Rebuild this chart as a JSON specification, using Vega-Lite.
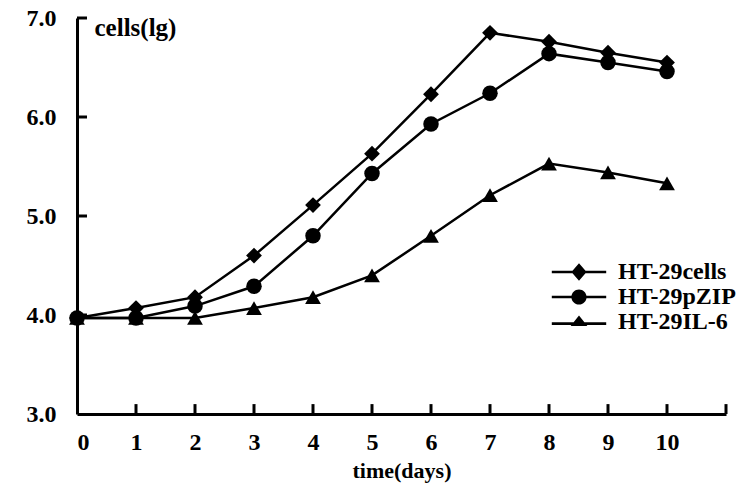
{
  "$schema": "https://vega.github.io/schema/vega-lite/v6.json",
  "width": 649,
  "height": 396,
  "autosize": "none",
  "padding": {"left": 77, "top": 18, "right": 28, "bottom": 80},
  "background": "white",
  "config": {
    "view": {"stroke": null},
    "font": "Liberation Serif",
    "axis": {"grid": false, "ticks": false, "domainColor": "black", "domainWidth": 3, "labelColor": "black", "titleColor": "black", "labelFont": "Liberation Serif", "titleFont": "Liberation Serif", "labelFontWeight": "bold", "titleFontWeight": "bold"}
  },
  "datasets": {
    "growth": [
      {"time": 0, "value": 3.97, "series": "HT-29cells"},
      {"time": 1, "value": 4.07, "series": "HT-29cells"},
      {"time": 2, "value": 4.18, "series": "HT-29cells"},
      {"time": 3, "value": 4.6, "series": "HT-29cells"},
      {"time": 4, "value": 5.11, "series": "HT-29cells"},
      {"time": 5, "value": 5.63, "series": "HT-29cells"},
      {"time": 6, "value": 6.23, "series": "HT-29cells"},
      {"time": 7, "value": 6.85, "series": "HT-29cells"},
      {"time": 8, "value": 6.76, "series": "HT-29cells"},
      {"time": 9, "value": 6.65, "series": "HT-29cells"},
      {"time": 10, "value": 6.55, "series": "HT-29cells"},
      {"time": 0, "value": 3.97, "series": "HT-29pZIP"},
      {"time": 1, "value": 3.97, "series": "HT-29pZIP"},
      {"time": 2, "value": 4.09, "series": "HT-29pZIP"},
      {"time": 3, "value": 4.29, "series": "HT-29pZIP"},
      {"time": 4, "value": 4.8, "series": "HT-29pZIP"},
      {"time": 5, "value": 5.43, "series": "HT-29pZIP"},
      {"time": 6, "value": 5.93, "series": "HT-29pZIP"},
      {"time": 7, "value": 6.24, "series": "HT-29pZIP"},
      {"time": 8, "value": 6.64, "series": "HT-29pZIP"},
      {"time": 9, "value": 6.55, "series": "HT-29pZIP"},
      {"time": 10, "value": 6.46, "series": "HT-29pZIP"},
      {"time": 0, "value": 3.97, "series": "HT-29IL-6"},
      {"time": 1, "value": 3.97, "series": "HT-29IL-6"},
      {"time": 2, "value": 3.97, "series": "HT-29IL-6"},
      {"time": 3, "value": 4.07, "series": "HT-29IL-6"},
      {"time": 4, "value": 4.18, "series": "HT-29IL-6"},
      {"time": 5, "value": 4.4, "series": "HT-29IL-6"},
      {"time": 6, "value": 4.8, "series": "HT-29IL-6"},
      {"time": 7, "value": 5.21, "series": "HT-29IL-6"},
      {"time": 8, "value": 5.53, "series": "HT-29IL-6"},
      {"time": 9, "value": 5.44, "series": "HT-29IL-6"},
      {"time": 10, "value": 5.33, "series": "HT-29IL-6"}
    ],
    "xticks": [{"t": 1}, {"t": 2}, {"t": 3}, {"t": 4}, {"t": 5}, {"t": 6}, {"t": 7}, {"t": 8}, {"t": 9}, {"t": 10}, {"t": 11}],
    "yticks": [{"v": 4}, {"v": 5}, {"v": 6}, {"v": 7}]
  },
  "data": {"name": "growth"},
  "layer": [
    {"mark": {"type": "line", "color": "black", "strokeWidth": 2.5},
     "encoding": {
       "x": {"field": "time", "type": "quantitative",
         "scale": {"domain": [0, 11], "nice": false, "zero": false},
         "axis": {"values": [0,1,2,3,4,5,6,7,8,9,10,11], "format": "d", "labelExpr": "datum.value == 11 ? '' : datum.label", "labelPadding": 16, "labelFontSize": 24, "title": "time(days)", "titleFontSize": 22, "titlePadding": 6}},
       "y": {"field": "value", "type": "quantitative",
         "scale": {"domain": [3, 7], "nice": false, "zero": false},
         "axis": {"values": [3,4,5,6,7], "format": ".1f", "labelPadding": 21, "labelFontSize": 24, "title": "cells(lg)", "titleFontSize": 25, "titleAngle": 0, "titleAlign": "left", "titleBaseline": "middle", "titleX": 17, "titleY": 9}},
       "detail": {"field": "series"}}},
    {"transform": [{"filter": "datum.series == 'HT-29cells'"}],
     "mark": {"type": "point", "shape": "diamond", "filled": true, "color": "black", "opacity": 1, "size": 250},
     "encoding": {"x": {"field": "time", "type": "quantitative"}, "y": {"field": "value", "type": "quantitative"}}},
    {"transform": [{"filter": "datum.series == 'HT-29pZIP'"}],
     "mark": {"type": "point", "shape": "circle", "filled": true, "color": "black", "opacity": 1, "size": 240},
     "encoding": {"x": {"field": "time", "type": "quantitative"}, "y": {"field": "value", "type": "quantitative"}}},
    {"transform": [{"filter": "datum.series == 'HT-29IL-6'"}],
     "mark": {"type": "point", "shape": "triangle-up", "filled": true, "color": "black", "opacity": 1, "size": 250},
     "encoding": {"x": {"field": "time", "type": "quantitative"}, "y": {"field": "value", "type": "quantitative"}}},
    {"data": {"name": "xticks"},
     "mark": {"type": "rule", "color": "black", "strokeWidth": 3},
     "encoding": {
       "x": {"field": "t", "type": "quantitative"},
       "y": {"datum": 3, "type": "quantitative"},
       "y2": {"datum": 3.1}}},
    {"data": {"name": "yticks"},
     "mark": {"type": "rule", "color": "black", "strokeWidth": 3},
     "encoding": {
       "y": {"field": "v", "type": "quantitative"},
       "x": {"datum": 0, "type": "quantitative"},
       "x2": {"datum": 0.17}}},
    {"mark": {"type": "point", "filled": true, "color": "black", "opacity": 0, "size": 256},
     "encoding": {
       "x": {"field": "time", "type": "quantitative"},
       "y": {"field": "value", "type": "quantitative"},
       "shape": {"field": "series", "type": "nominal",
        "scale": {"domain": ["HT-29cells", "HT-29pZIP", "HT-29IL-6"], "range": [
          "M-3.4,-0.16L3.4,-0.16L3.4,0.16L-3.4,0.16ZM0,-1.1L0.95,0L0,1.1L-0.95,0Z",
          "M-3.4,-0.16L3.4,-0.16L3.4,0.16L-3.4,0.16ZM-0.95,0A0.95,0.95,0,1,1,0.95,0A0.95,0.95,0,1,1,-0.95,0Z",
          "M-3.4,0.04L3.4,0.04L3.4,0.36L-3.4,0.36ZM-1.05,0.5L0,-0.8L1.05,0.5Z"]},
        "legend": {"title": null, "orient": "none", "legendX": 490, "legendY": 242, "labelFont": "Liberation Serif", "labelFontWeight": "bold", "labelFontSize": 24, "labelColor": "black", "labelOffset": 27, "rowPadding": 1, "symbolSize": 256,
          "symbolFillColor": "black", "symbolOpacity": 1,
          "encode": {"symbols": {"update": {"fill": {"value": "black"}, "opacity": {"value": 1}, "fillOpacity": {"value": 1}}}}}}}}
  ]
}
